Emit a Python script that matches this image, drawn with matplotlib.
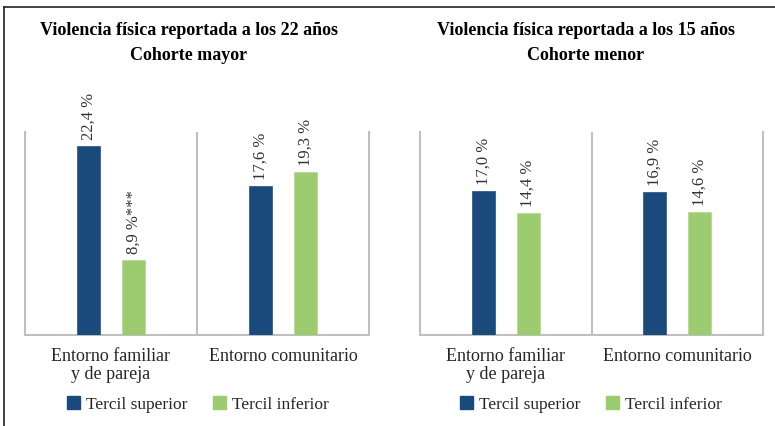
import matplotlib
matplotlib.use("Agg")
import matplotlib.pyplot as plt
from matplotlib.lines import Line2D
from matplotlib.patches import Patch
import numpy as np

categories = ["Entorno familiar\ny de pareja", "Entorno comunitario"]
series_names = ["Tercil superior", "Tercil inferior"]
titles = ["Violencia física reportada a los 22 años\nCohorte mayor",
          "Violencia física reportada a los 15 años\nCohorte menor"]
mayor_superior = [22.4, 17.6]
mayor_inferior = [8.9, 19.3]
menor_superior = [17.0, 16.9]
menor_inferior = [14.4, 14.6]
labels_mayor_superior = ["22,4 %", "17,6 %"]
labels_mayor_inferior = ["8,9 %***", "19,3 %"]
labels_menor_superior = ["17,0 %", "16,9 %"]
labels_menor_inferior = ["14,4 %", "14,6 %"]

plt.rcParams['font.family'] = ['Liberation Serif', 'DejaVu Serif']

C_DARK = "#1A4A7C"
C_GREEN = "#9DCB6F"
C_GRID = "#BFBFBF"
C_TEXT = "#262626"

fig = plt.figure(figsize=(7.75, 4.27), dpi=100)

panels = [
    (mayor_superior, mayor_inferior, labels_mayor_superior, labels_mayor_inferior, titles[0],
     [25/775, 91/427, 344/775, 203/427], 189/775, 198/775),
    (menor_superior, menor_inferior, labels_menor_superior, labels_menor_inferior, titles[1],
     [420/775, 91/427, 343/775, 203/427], 586/775, 591/775),
]

x = np.arange(len(categories))
w = 0.134
off = 0.13

for sup, inf, lsup, linf, title, rect, tx, lx in panels:
    ax = fig.add_axes(rect)
    b1 = ax.bar(x - off, sup, width=w, color=C_DARK, edgecolor="#2E5F93", linewidth=0.6, zorder=3)
    b2 = ax.bar(x + off, inf, width=w, color=C_GREEN, edgecolor="#B5DA92", linewidth=0.6, zorder=3)
    for bars, labs in ((b1, lsup), (b2, linf)):
        for rect_b, lab in zip(bars, labs):
            ax.annotate(lab, (rect_b.get_x() + rect_b.get_width() / 2, rect_b.get_height()),
                        xytext=(0, 5), textcoords="offset points", rotation=90,
                        ha="center", va="bottom", fontsize=12, color="#333333")
    ax.set_xlim(-0.5, len(categories) - 0.5)
    ax.set_ylim(0, 24)
    ax.set_yticks([])
    ax.set_xticks(x)
    ax.set_xticklabels(categories, fontsize=13, color=C_TEXT, linespacing=1.05)
    ax.tick_params(axis="x", length=0, pad=9)
    for s in ("left", "right", "bottom"):
        ax.spines[s].set_color(C_GRID)
        ax.spines[s].set_linewidth(1.5)
    ax.spines["top"].set_visible(False)
    for xv in np.arange(0.5, len(categories) - 0.5):
        ax.axvline(xv, color=C_GRID, linewidth=1.5, zorder=1)
    fig.text(tx, 1 - 43/427, title, ha="center", va="center", fontsize=13,
             fontweight="bold", color="black", linespacing=1.65)
    handles = [Patch(facecolor=C_DARK, edgecolor=C_DARK), Patch(facecolor=C_GREEN, edgecolor=C_GREEN)]
    fig.legend(handles, series_names, loc="center", ncol=2, frameon=False,
               bbox_to_anchor=(lx, 1 - 405/427), fontsize=12.5,
               handlelength=0.75, handleheight=0.75, handletextpad=0.35, columnspacing=1.5,
               labelcolor=C_TEXT)

# frame lines (top and left)
fig.add_artist(Line2D([4/775, 1], [1 - 8/427, 1 - 8/427], color="#222222", linewidth=1.2,
                      transform=fig.transFigure))
fig.add_artist(Line2D([4/775, 4/775], [0, 1 - 8/427], color="#222222", linewidth=1.2,
                      transform=fig.transFigure))

fig.savefig("out.png", dpi=100, facecolor="white")
